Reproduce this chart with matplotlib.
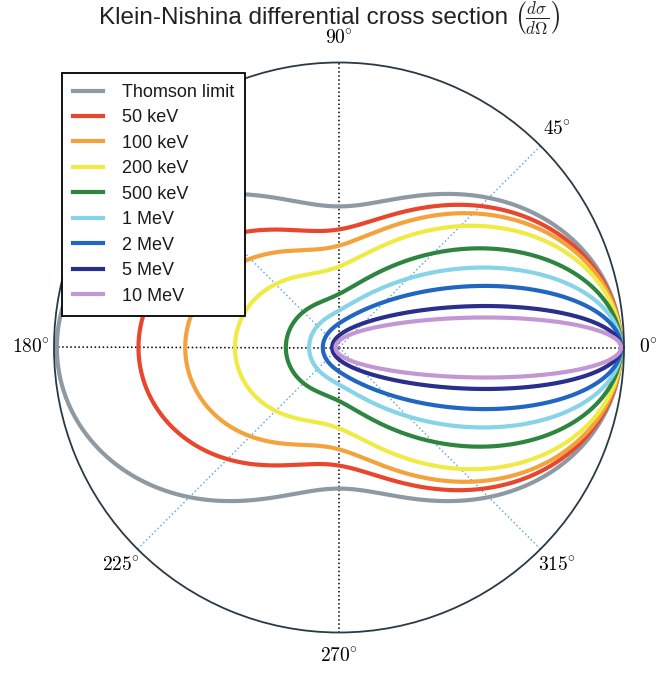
import matplotlib

matplotlib.use("Agg")
import matplotlib.pyplot as plt
import numpy as np

# photon energies (keV) and legend entries
energies_kev = [50, 100, 200, 500, 1000, 2000, 5000, 10000]
labels = ["50 keV", "100 keV", "200 keV", "500 keV",
          "1 MeV", "2 MeV", "5 MeV", "10 MeV"]
colors = ["#e8472e", "#f4a23c", "#f0ea45", "#2e8540",
          "#87d3e8", "#2166c0", "#2a2e8c", "#c397d3"]
thomson_color = "#8e9aa3"
electron_rest_kev = 511.0

tick_degrees = [0, 45, 90, 135, 180, 225, 270, 315]


def klein_nishina(theta, e_kev):
    # normalised so the forward (theta = 0) value is 1
    eps = e_kev / electron_rest_kev
    p = 1.0 / (1.0 + eps * (1.0 - np.cos(theta)))
    return 0.5 * p**2 * (p + 1.0 / p - np.sin(theta) ** 2)


def thomson(theta):
    return 0.5 * (1.0 + np.cos(theta) ** 2)


plt.rcParams["mathtext.fontset"] = "cm"
plt.rcParams["font.family"] = ["Liberation Sans", "DejaVu Sans"]

theta = np.linspace(0, 2 * np.pi, 1441)

fig = plt.figure(figsize=(6.59, 6.76), dpi=100)
ax = fig.add_axes([54 / 659, 43 / 676, 570 / 659, 571 / 676], projection="polar")

ax.plot(theta, thomson(theta), color=thomson_color, linewidth=3, label="Thomson limit")
for e, lab, c in zip(energies_kev, labels, colors):
    ax.plot(theta, klein_nishina(theta, e), color=c, linewidth=3, label=lab)

ax.set_rmax(1.01)
ax.set_rmin(0)
ax.set_yticks([])
ax.set_xticks(np.radians(tick_degrees))
ax.set_xticklabels([r"$%d\!^\circ$" % d for d in tick_degrees], fontsize=14)
ax.tick_params(axis="x", pad=6.5)
ax.grid(True, linestyle=":", linewidth=1.1, color="black")
for d, gl in zip(tick_degrees, ax.xaxis.get_gridlines()):
    if d % 90:
        gl.set_color("#6aaedc")
ax.spines["polar"].set_color("#2a3a45")
ax.spines["polar"].set_linewidth(1.3)

leg = ax.legend(loc="upper left", bbox_to_anchor=(62 / 659, 1 - 73 / 676),
                bbox_transform=fig.transFigure, fontsize=13, frameon=True,
                fancybox=False, framealpha=1, edgecolor="black",
                handlelength=1.65, handletextpad=1.05, labelspacing=0.47,
                borderpad=0.6, borderaxespad=0)
leg.get_frame().set_linewidth(1.3)
for t in leg.get_texts():
    t.set_color("#1a1a1a")

# title in two pieces so the tall fraction sits beside the text, centred as a whole
title_y = 1 - 24 / 676
t1 = fig.text(0, title_y, "Klein-Nishina differential cross section",
              ha="left", va="baseline", fontsize=17.5, color="#222222")
t2 = fig.text(0, title_y, r"$\left(\frac{d\sigma}{d\Omega}\right)$",
              ha="left", va="baseline", fontsize=17.5, color="#222222")
renderer = fig.canvas.get_renderer()
w1 = t1.get_window_extent(renderer).width / fig.bbox.width
w2 = t2.get_window_extent(renderer).width / fig.bbox.width
gap = 6 / 659
x0 = 0.5 - (w1 + gap + w2) / 2
t1.set_x(x0)
t2.set_x(x0 + w1 + gap)

fig.savefig("out.png")
plt.close(fig)
